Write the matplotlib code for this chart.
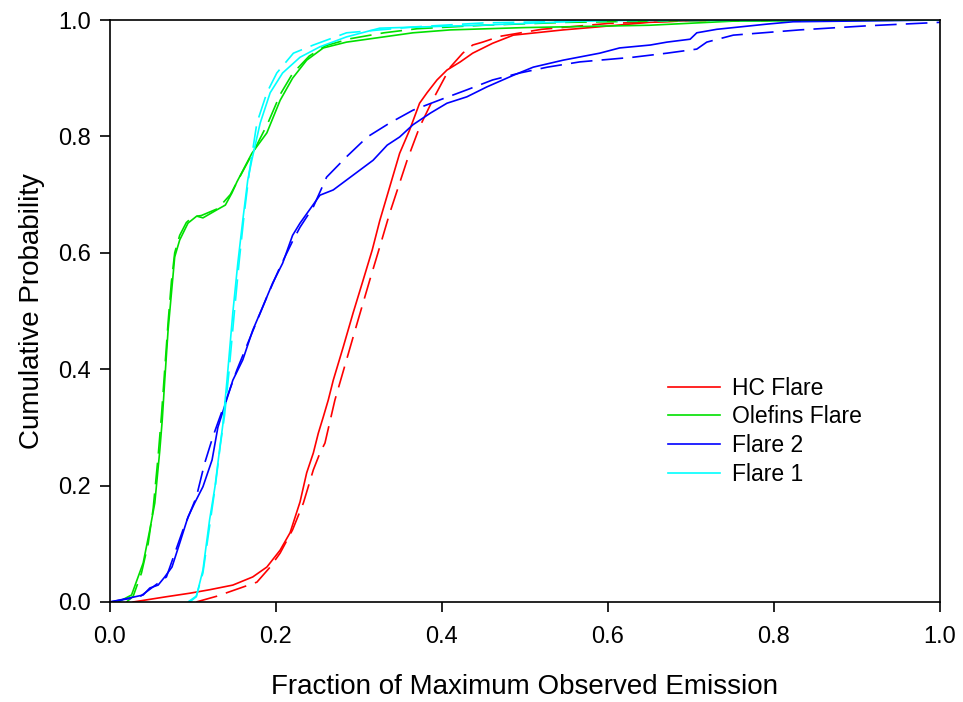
import matplotlib
matplotlib.use("Agg")
import matplotlib.pyplot as plt

plt.rcParams['font.family'] = ['Liberation Sans', 'DejaVu Sans']

# HC Flare - observed (solid) and fitted (dashed)
hc_obs_x = [0.028, 0.068, 0.096, 0.120, 0.148, 0.172, 0.189, 0.205, 0.217, 0.229, 0.237,
            0.245, 0.251, 0.257, 0.263, 0.269, 0.281, 0.293, 0.305, 0.316, 0.325, 0.337,
            0.349, 0.361, 0.373, 0.382, 0.394, 0.406, 0.422, 0.437, 0.461, 0.486, 0.546,
            0.587, 0.650, 0.720, 1.0]
hc_obs_y = [0.0, 0.009, 0.015, 0.021, 0.029, 0.043, 0.060, 0.089, 0.119, 0.172, 0.222,
            0.256, 0.290, 0.318, 0.347, 0.381, 0.438, 0.497, 0.553, 0.605, 0.655, 0.713,
            0.771, 0.811, 0.857, 0.875, 0.897, 0.914, 0.928, 0.943, 0.960, 0.974, 0.983,
            0.988, 0.996, 1.0, 1.0]
hc_fit_x = [0.104, 0.129, 0.157, 0.177, 0.193, 0.205, 0.220, 0.233, 0.245, 0.253, 0.259,
            0.271, 0.285, 0.299, 0.313, 0.325, 0.337, 0.358, 0.373, 0.389, 0.410, 0.425,
            0.437, 0.449, 0.470, 0.520, 0.600, 0.700, 1.0]
hc_fit_y = [0.0, 0.010, 0.024, 0.034, 0.060, 0.084, 0.124, 0.170, 0.227, 0.256, 0.273,
            0.347, 0.416, 0.485, 0.553, 0.610, 0.668, 0.759, 0.816, 0.863, 0.919, 0.943,
            0.957, 0.962, 0.972, 0.984, 0.994, 0.999, 1.0]

# Olefins Flare
ol_obs_x = [0.010, 0.018, 0.026, 0.040, 0.048, 0.054, 0.060, 0.063, 0.066, 0.070, 0.0747,
            0.078, 0.084, 0.094, 0.1045, 0.112, 0.129, 0.139, 0.147, 0.153, 0.171, 0.189,
            0.205, 0.220, 0.237, 0.257, 0.285, 0.325, 0.365, 0.410, 0.500, 0.650, 0.750, 1.0]
ol_obs_y = [0.0, 0.006, 0.012, 0.067, 0.124, 0.170, 0.260, 0.313, 0.381, 0.467, 0.541,
            0.593, 0.622, 0.651, 0.663, 0.660, 0.674, 0.682, 0.703, 0.722, 0.771, 0.806,
            0.862, 0.900, 0.931, 0.952, 0.962, 0.970, 0.978, 0.983, 0.987, 0.991, 0.998, 1.0]
ol_fit_x = [0.020, 0.028, 0.038, 0.046, 0.052, 0.058, 0.062, 0.066, 0.070, 0.074, 0.078,
            0.084, 0.092, 0.100, 0.110, 0.130, 0.145, 0.160, 0.175, 0.190, 0.205, 0.220,
            0.240, 0.260, 0.290, 0.330, 0.370, 0.450, 0.550, 0.700, 1.0]
ol_fit_y = [0.0, 0.010, 0.050, 0.100, 0.160, 0.250, 0.320, 0.400, 0.480, 0.550, 0.600,
            0.630, 0.652, 0.662, 0.664, 0.676, 0.700, 0.740, 0.780, 0.822, 0.872, 0.908,
            0.938, 0.956, 0.968, 0.978, 0.985, 0.991, 0.996, 0.999, 1.0]

# Flare 2
f2_obs_x = [0.0, 0.024, 0.040, 0.048, 0.058, 0.066, 0.0747, 0.084, 0.094, 0.102, 0.112,
            0.123, 0.130, 0.148, 0.160, 0.172, 0.184, 0.196, 0.208, 0.220, 0.229, 0.253,
            0.269, 0.285, 0.301, 0.317, 0.334, 0.349, 0.365, 0.386, 0.406, 0.430, 0.454,
            0.486, 0.510, 0.546, 0.590, 0.614, 0.651, 0.671, 0.699, 0.707, 0.731, 0.792,
            0.823, 1.0]
f2_obs_y = [0.0, 0.007, 0.012, 0.024, 0.029, 0.043, 0.060, 0.101, 0.146, 0.170, 0.198,
            0.244, 0.300, 0.381, 0.416, 0.467, 0.507, 0.548, 0.582, 0.630, 0.651, 0.699,
            0.708, 0.725, 0.742, 0.759, 0.785, 0.799, 0.820, 0.840, 0.857, 0.868, 0.885,
            0.905, 0.919, 0.931, 0.943, 0.952, 0.957, 0.962, 0.967, 0.978, 0.984, 0.993,
            0.997, 1.0]
f2_fit_x = [0.0, 0.036, 0.068, 0.088, 0.104, 0.114, 0.124, 0.130, 0.153, 0.169, 0.189,
            0.205, 0.220, 0.229, 0.245, 0.261, 0.285, 0.310, 0.337, 0.365, 0.398, 0.430,
            0.461, 0.494, 0.527, 0.566, 0.590, 0.630, 0.671, 0.707, 0.719, 0.751, 0.831,
            0.912, 1.0]
f2_fit_y = [0.0, 0.009, 0.043, 0.124, 0.180, 0.238, 0.284, 0.308, 0.399, 0.455, 0.524,
            0.576, 0.620, 0.644, 0.679, 0.730, 0.765, 0.799, 0.823, 0.845, 0.863, 0.880,
            0.897, 0.909, 0.919, 0.928, 0.931, 0.936, 0.943, 0.950, 0.962, 0.974, 0.983,
            0.990, 0.996]

# Flare 1
f1_obs_x = [0.096, 0.104, 0.112, 0.120, 0.1265, 0.1325, 0.136, 0.141, 0.148, 0.154, 0.160,
            0.166, 0.171, 0.181, 0.193, 0.208, 0.229, 0.253, 0.285, 0.325, 0.446, 0.600, 1.0]
f1_obs_y = [0.0, 0.009, 0.055, 0.141, 0.198, 0.267, 0.305, 0.381, 0.497, 0.582, 0.656,
            0.725, 0.760, 0.823, 0.875, 0.909, 0.936, 0.954, 0.971, 0.986, 0.991, 1.0, 1.0]
f1_fit_x = [0.094, 0.104, 0.112, 0.120, 0.127, 0.133, 0.138, 0.143, 0.150, 0.156, 0.162,
            0.168, 0.177, 0.189, 0.201, 0.221, 0.245, 0.285, 0.365, 0.450, 0.600, 1.0]
f1_fit_y = [0.0, 0.010, 0.050, 0.130, 0.200, 0.270, 0.320, 0.390, 0.500, 0.590, 0.670,
            0.740, 0.823, 0.875, 0.909, 0.943, 0.957, 0.978, 0.988, 0.995, 0.999, 1.0]

labels = ['HC Flare', 'Olefins Flare', 'Flare 2', 'Flare 1']
colors = ['#ff0000', '#00e000', '#0000ff', '#00ffff']
obs = [(hc_obs_x, hc_obs_y), (ol_obs_x, ol_obs_y), (f2_obs_x, f2_obs_y), (f1_obs_x, f1_obs_y)]
fit = [(hc_fit_x, hc_fit_y), (ol_fit_x, ol_fit_y), (f2_fit_x, f2_fit_y), (f1_fit_x, f1_fit_y)]

fig = plt.figure(figsize=(9.63, 7.02), dpi=100)
ax = fig.add_axes([0.1142, 0.1425, 0.8619, 0.829])

for (x, y), (fx, fy), c, lab in zip(obs, fit, colors, labels):
    ax.plot(x, y, color=c, lw=1.2, label=lab)
    ax.plot(fx, fy, color=c, lw=1.2, linestyle=(0, (13, 5.5)))

ax.set_xlim(0, 1)
ax.set_ylim(0, 1)
ax.set_xticks([0, 0.2, 0.4, 0.6, 0.8, 1.0])
ax.set_yticks([0, 0.2, 0.4, 0.6, 0.8, 1.0])
ax.set_xticklabels(['0.0', '0.2', '0.4', '0.6', '0.8', '1.0'])
ax.set_yticklabels(['0.0', '0.2', '0.4', '0.6', '0.8', '1.0'])
ax.tick_params(direction='out', length=7, width=1.2, labelsize=17,
               top=False, right=False)
ax.tick_params(axis='x', pad=10)
ax.tick_params(axis='y', pad=7)
for s in ax.spines.values():
    s.set_linewidth(1.2)

ax.set_xlabel('Fraction of Maximum Observed Emission', fontsize=20, labelpad=19)
ax.set_ylabel('Cumulative Probability', fontsize=20, labelpad=9)

ax.legend(loc='upper left', bbox_to_anchor=(0.672, 0.387), frameon=False, fontsize=16.5,
          handlelength=2.27, labelspacing=0.25, handletextpad=0.55,
          borderaxespad=0, borderpad=0)

fig.savefig('out.png', dpi=100)
